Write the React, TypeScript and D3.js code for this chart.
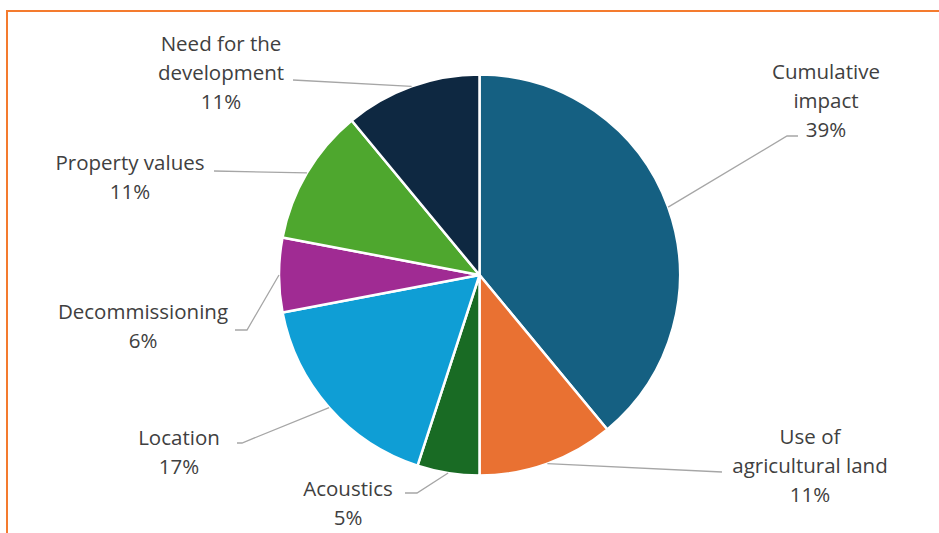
import React from "react";
import * as d3 from "d3";

const categories = [
  "Cumulative impact",
  "Use of agricultural land",
  "Acoustics",
  "Location",
  "Decommissioning",
  "Property values",
  "Need for the development",
];
const values = [39, 11, 5, 17, 6, 11, 11];
const labelLines = [
  ["Cumulative", "impact"],
  ["Use of", "agricultural land"],
  ["Acoustics"],
  ["Location"],
  ["Decommissioning"],
  ["Property values"],
  ["Need for the", "development"],
];
const colors = ["#156082", "#E97132", "#196B24", "#0F9ED5", "#A02B93", "#4EA72E", "#0E2841"];

// label layout: center x, first line center y, leader path points after the arc point
const labelLayout = [
  { x: 826, y: 71, leader: [[787, 136], [798, 136]] },
  { x: 810, y: 436, leader: [[722, 472]] },
  { x: 348, y: 488, leader: [[417, 493], [405, 493]] },
  { x: 179, y: 437, leader: [[242, 443], [237, 443]] },
  { x: 143, y: 311, leader: [[247, 330], [235, 330]] },
  { x: 130, y: 162, leader: [[214, 171]] },
  { x: 221, y: 43, leader: [[293, 80]] },
];

const W = 939;
const H = 533;
const cx = 479.5;
const cy = 275;
const R = 200.5;
const lineH = 29;

export default function App() {
  const pie = d3.pie<number>().value((d) => d).sort(null);
  const arcs = pie(values);
  const arcGen = d3.arc<d3.PieArcDatum<number>>().innerRadius(0).outerRadius(R);
  const total = d3.sum(values);
  return (
    <svg width={W} height={H} style={{ position: "absolute", left: 0, top: 0 }}>
      <rect x={0} y={0} width={W} height={H} fill="#fff" />
      <rect x={7} y={11} width={1200} height={800} fill="none" stroke="#F47B2E" strokeWidth={2} />
      <g transform={`translate(${cx},${cy})`}>
        {arcs.map((a, i) => (
          <path key={i} d={arcGen(a) || ""} fill={colors[i]} stroke="#fff" strokeWidth={2.5} strokeLinejoin="round" />
        ))}
      </g>
      {arcs.map((a, i) => {
        const mid = (a.startAngle + a.endAngle) / 2;
        const sx = cx + R * Math.sin(mid);
        const sy = cy - R * Math.cos(mid);
        const pts = [[sx, sy], ...labelLayout[i].leader];
        return (
          <polyline
            key={"l" + i}
            points={pts.map((p) => p.join(",")).join(" ")}
            fill="none"
            stroke="#A6A6A6"
            strokeWidth={1.3}
          />
        );
      })}
      {arcs.map((a, i) => {
        const L = labelLayout[i];
        const lines = [...labelLines[i], `${Math.round((values[i] / total) * 100)}%`];
        return (
          <text
            key={"t" + i}
            textAnchor="middle"
            fontFamily="'Open Sans', sans-serif"
            fontSize={20.5}
            fill="#404040"
          >
            {lines.map((ln, j) => (
              <tspan key={j} x={L.x} y={L.y + j * lineH} dominantBaseline="central">
                {ln}
              </tspan>
            ))}
          </text>
        );
      })}
    </svg>
  );
}
